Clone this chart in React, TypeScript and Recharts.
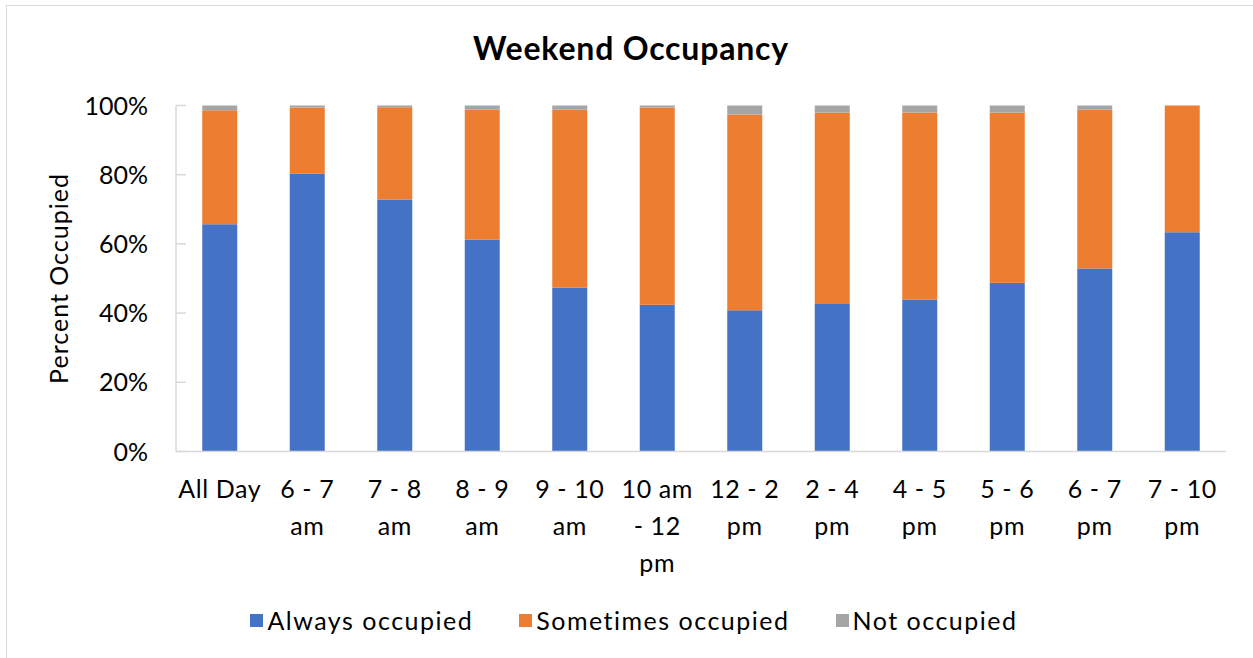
import React from "react";
import { BarChart, Bar, XAxis, YAxis, Legend } from "recharts";

const categories = ["All Day", "6 - 7\nam", "7 - 8\nam", "8 - 9\nam", "9 - 10\nam", "10 am\n- 12\npm", "12 - 2\npm", "2 - 4\npm", "4 - 5\npm", "5 - 6\npm", "6 - 7\npm", "7 - 10\npm"];
const alwaysOccupied = [65.7, 80.3, 72.8, 61.2, 47.3, 42.4, 40.8, 42.6, 43.9, 48.8, 52.9, 63.4];
const sometimesOccupied = [32.9, 19.1, 26.7, 37.6, 51.5, 57.0, 56.6, 55.4, 54.1, 49.2, 45.9, 36.6];
const notOccupied = [1.4, 0.6, 0.5, 1.2, 1.2, 0.6, 2.6, 2.0, 2.0, 2.0, 1.2, 0];
const yTicks = [0, 20, 40, 60, 80, 100];

const COLORS = { always: "#4472C4", sometimes: "#ED7D31", not: "#A5A5A5" };
const FRAME = "#D9D9D9";
const FONT = "Lato, 'Open Sans', sans-serif";

const data = categories.map((label, i) => ({
  label,
  always: alwaysOccupied[i],
  sometimes: sometimesOccupied[i],
  not: notOccupied[i],
}));

function XTick({ x, y, payload }: any) {
  const lines = String(payload.value).split("\n");
  return (
    <text x={x} y={y} textAnchor="middle" fontSize={25} fontFamily={FONT} fill="#000" letterSpacing={0.6}>
      {lines.map((l, i) => (
        <tspan key={i} x={x} dy={i === 0 ? 46.5 : 37}>
          {l}
        </tspan>
      ))}
    </text>
  );
}

function YTick({ x, y, payload }: any) {
  return (
    <g>
      <line x1={x} x2={x + 10} y1={y} y2={y} stroke={FRAME} strokeWidth={1.5} />
      <text x={x - 28} y={y} dy={9} textAnchor="end" fontSize={25} fontFamily={FONT} fill="#000">
        {`${payload.value}%`}
      </text>
    </g>
  );
}

function YLabel({ viewBox }: any) {
  const cx = viewBox.x + 68;
  const cy = viewBox.y + viewBox.height / 2;
  return (
    <text x={cx} y={cy} transform={`rotate(-90, ${cx}, ${cy})`} textAnchor="middle" fontSize={25} fontFamily={FONT} fill="#000" letterSpacing={1}>
      Percent Occupied
    </text>
  );
}

const legendItems = [
  { name: "Always occupied", color: COLORS.always },
  { name: "Sometimes occupied", color: COLORS.sometimes },
  { name: "Not occupied", color: COLORS.not },
];

function LegendContent() {
  return (
    <div style={{ height: 40, display: "flex", justifyContent: "center", alignItems: "center", gap: 46, paddingLeft: 42, fontFamily: FONT, fontSize: 25, letterSpacing: 1.5 }}>
      {legendItems.map((it) => (
        <div key={it.name} style={{ display: "flex", alignItems: "center" }}>
          <span style={{ width: 13, height: 13, background: it.color, marginRight: 4, display: "inline-block" }} />
          <span>{it.name}</span>
        </div>
      ))}
    </div>
  );
}

export default function App() {
  return (
    <div style={{ position: "absolute", left: 0, top: 0, width: 1253, height: 658, background: "#fff", overflow: "hidden", fontFamily: FONT }}>
      <div style={{ position: "absolute", left: 6, top: 5, width: 1300, height: 700, border: `1px solid ${FRAME}` }} />
      <div style={{ position: "absolute", left: 631, top: 32, transform: "translateX(-50%)", whiteSpace: "nowrap", fontSize: 32, lineHeight: 1, fontWeight: 700, letterSpacing: 0.8, color: "#000" }}>
        Weekend Occupancy
      </div>
      <BarChart width={1253} height={658} data={data} margin={{ top: 105.5, right: 27, left: 0, bottom: 18 }} barCategoryGap="30%">
        <XAxis dataKey="label" height={148.5} tickLine={false} tickSize={0} tickMargin={0} interval={0} axisLine={{ stroke: FRAME, strokeWidth: 1.5 }} tick={<XTick />} />
        <XAxis xAxisId="top" dataKey="label" orientation="top" height={0} tick={false} tickLine={false} axisLine={{ stroke: FRAME, strokeWidth: 1.5 }} />
        <YAxis
          width={176}
          domain={[0, 100]}
          ticks={yTicks}
          tickLine={false}
          tickSize={0}
          tickMargin={0}
          axisLine={{ stroke: FRAME, strokeWidth: 1.5 }}
          tick={<YTick />}
          label={<YLabel />}
        />
        <YAxis yAxisId="right" orientation="right" width={0} domain={[0, 100]} tick={false} tickLine={false} axisLine={{ stroke: FRAME, strokeWidth: 1.5 }} />
        <Legend verticalAlign="bottom" content={<LegendContent />} />
        <Bar dataKey="always" name="Always occupied" stackId="a" fill={COLORS.always} isAnimationActive={false} />
        <Bar dataKey="sometimes" name="Sometimes occupied" stackId="a" fill={COLORS.sometimes} isAnimationActive={false} />
        <Bar dataKey="not" name="Not occupied" stackId="a" fill={COLORS.not} isAnimationActive={false} />
      </BarChart>
    </div>
  );
}
